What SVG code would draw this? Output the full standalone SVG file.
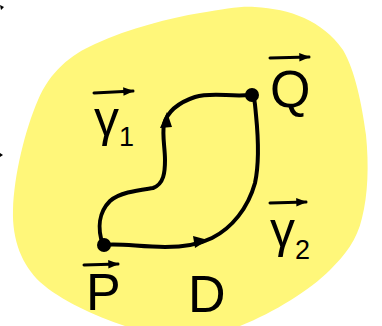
<svg xmlns="http://www.w3.org/2000/svg" width="382" height="326" viewBox="0 0 382 326">
<defs>
<style>
.curve{fill:none;stroke:#000;stroke-width:4;stroke-linecap:round;stroke-linejoin:round}
.vec{fill:none;stroke:#000;stroke-width:3;stroke-linecap:round}
.lbl{font-family:"Liberation Sans",Arial,sans-serif;fill:#000}
</style>
<marker id="ah" viewBox="0 0 10 10" refX="9" refY="5" markerWidth="3.6" markerHeight="3.6" orient="auto" markerUnits="strokeWidth">
<path d="M0,1 L10,5 L0,9 Z" fill="#000"/>
</marker>
</defs>
<rect width="382" height="326" fill="#fff"/>
<path id="region" d="M255,7 C290,9 322,20 343,50 C355,70 362,105 366,135 C369,165 368,195 362,218 C357,240 345,255 330,270 C310,290 275,312 240,326 L125,326 C95,316 60,300 40,282 C22,265 12,240 13,210 C14,175 25,130 38,100 C50,72 70,55 95,44 C130,28 170,18 200,13 C225,9 240,6 255,7 Z" fill="#fff77a"/>
<path d="M0,5 L4,7 L1,10 Z M0,153 L3,155 L0,157 Z" fill="#000"/>
<g id="connectors">
<path id="gamma1" class="curve" d="M103,245 C97,228 99,212 110,201 C120,192 140,190 153,188 C164,184 165,172 165,160 C165,148 162,135 164,124 C168,110 180,102 195,97 C212,92 230,97 250,95"/>
<path id="gamma2" class="curve" d="M103,245 C120,243 140,247 165,247 C185,247 200,244 212,238 C232,228 248,208 255,183 C260,160 258,135 256,115 C255,105 255,100 253,95"/>
<path d="M160,128 L167,112 L172,127 Z" fill="#000"/>
<path d="M193,236 L208,240 L195,248 Z" fill="#000"/>
</g>
<g id="P">
<circle cx="104" cy="245" r="7" fill="#000"/>
<line class="vec" x1="84" y1="265" x2="118" y2="264" marker-end="url(#ah)"/>
<text class="lbl" x="86" y="310" font-size="52">P</text>
</g>
<g id="Q">
<circle cx="252" cy="95" r="7" fill="#000"/>
<line class="vec" x1="270" y1="58" x2="309" y2="57" marker-end="url(#ah)"/>
<text class="lbl" x="270" y="107" font-size="52">Q</text>
</g>
<g id="D">
<text class="lbl" x="188" y="312" font-size="52">D</text>
</g>
<g id="gamma1-label">
<line class="vec" x1="94" y1="93" x2="133" y2="91" marker-end="url(#ah)"/>
<text class="lbl" x="94" y="136" font-size="50">γ<tspan font-size="27" dy="10">1</tspan></text>
</g>
<g id="gamma2-label">
<line class="vec" x1="270" y1="203" x2="306" y2="202" marker-end="url(#ah)"/>
<text class="lbl" x="270" y="247" font-size="50">γ<tspan font-size="27" dy="12">2</tspan></text>
</g>
</svg>
